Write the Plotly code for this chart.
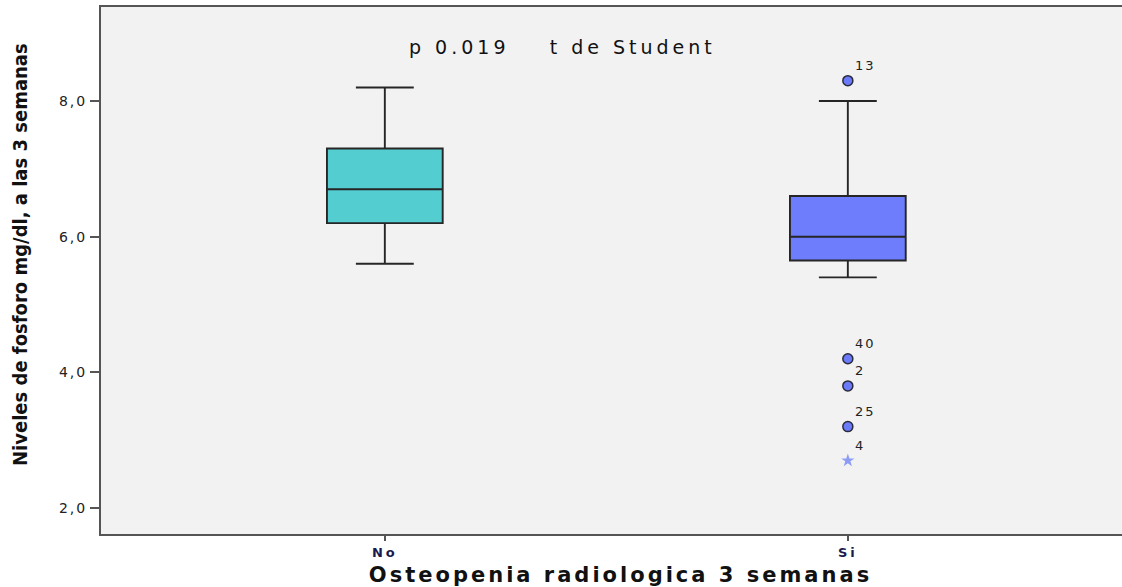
import plotly.graph_objects as go

categories = ["No", "Si"]
q1 = [6.2, 5.65]
median = [6.7, 6.0]
q3 = [7.3, 6.6]
lower_whisker = [5.6, 5.4]
upper_whisker = [8.2, 8.0]
box_colors = ["#54CDD1", "#6E7DFC"]

outlier_cat = ["Si", "Si", "Si", "Si"]
outlier_val = [8.3, 4.2, 3.8, 3.2]
outlier_lbl = ["13", "40", "2", "25"]
extreme_cat = ["Si"]
extreme_val = [2.7]
extreme_lbl = ["4"]

y_ticks = [2, 4, 6, 8]
y_tick_text = ["2,0", "4,0", "6,0", "8,0"]

fig = go.Figure()
for i, c in enumerate(categories):
    fig.add_trace(go.Box(
        x=[c], q1=[q1[i]], median=[median[i]], q3=[q3[i]],
        lowerfence=[lower_whisker[i]], upperfence=[upper_whisker[i]],
        fillcolor=box_colors[i], line=dict(color="#262626", width=1.9),
        width=0.25, whiskerwidth=0.5, boxpoints=False, showlegend=False,
        hoverinfo="skip",
    ))

fig.add_trace(go.Scatter(
    x=outlier_cat, y=outlier_val, mode="markers+text", text=outlier_lbl,
    textposition="top right",
    textfont=dict(family="DejaVu Sans", size=13, color="#222"),
    marker=dict(symbol="circle", size=10, color="#6A7AF8",
                line=dict(color="#2a2a3a", width=1.5)),
    showlegend=False, cliponaxis=False, hoverinfo="skip",
))
fig.add_trace(go.Scatter(
    x=extreme_cat, y=extreme_val, mode="markers+text", text=extreme_lbl,
    textposition="top right",
    textfont=dict(family="DejaVu Sans", size=13, color="#222"),
    marker=dict(symbol="star", size=10, color="#8C9BF5", line=dict(width=0)),
    showlegend=False, cliponaxis=False, hoverinfo="skip",
))

fig.add_annotation(
    x=0.5, y=8.80, xref="x", yref="y",
    text="p 0.019&nbsp;&nbsp;&nbsp;&nbsp;t de Student",
    showarrow=False, font=dict(family="DejaVu Sans", size=19, color="#111"),
    xshift=(563 - 385) - 0.5 * 463,
)
fig.add_annotation(
    x=0, xref="paper", xanchor="center", xshift=-81, y=5.73, yref="y",
    text="<b>Niveles de fosforo mg/dl, a las 3 semanas</b>", textangle=-90,
    showarrow=False, font=dict(family="DejaVu Sans Condensed, DejaVu Sans", size=20, color="#111"),
)

fig.update_layout(
    width=1140, height=587,
    margin=dict(l=101, r=0, t=7, b=53),
    paper_bgcolor="white", plot_bgcolor="#F2F2F2",
    xaxis=dict(
        type="category", categoryorder="array", categoryarray=categories,
        range=[-0.613, 1.631], showgrid=False, zeroline=False,
        showline=True, linecolor="#555", linewidth=2, mirror=True,
        ticks="outside", ticklen=5, tickcolor="#555", tickwidth=2,
        tickfont=dict(family="DejaVu Sans", size=13, color="#1a1a50", weight="bold"),
        title=dict(text="<b>Osteopenia radiologica 3 semanas</b>",
                   font=dict(family="DejaVu Sans", size=21, color="#111"),
                   standoff=12),
    ),
    yaxis=dict(
        range=[1.617, 9.386], tickvals=y_ticks, ticktext=y_tick_text,
        showgrid=False, zeroline=False,
        showline=True, linecolor="#555", linewidth=2, mirror=False,
        ticks="outside", ticklen=9, tickcolor="#555", tickwidth=1.5,
        tickfont=dict(family="DejaVu Sans", size=14, color="#222"),
    ),
)

post = """
document.body.style.margin='0px';
document.body.style.overflow='hidden';
var s=document.createElement('style');
s.innerHTML='.xtick text{letter-spacing:3px} .ytick text{letter-spacing:2px} text.xtitle{letter-spacing:3px} g.annotation[data-index="0"] text.annotation-text{letter-spacing:4px} .textpoint text{letter-spacing:2px}';
document.head.appendChild(s);
"""

fig.write_html("out.html", post_script=post, config={"displayModeBar": False})
